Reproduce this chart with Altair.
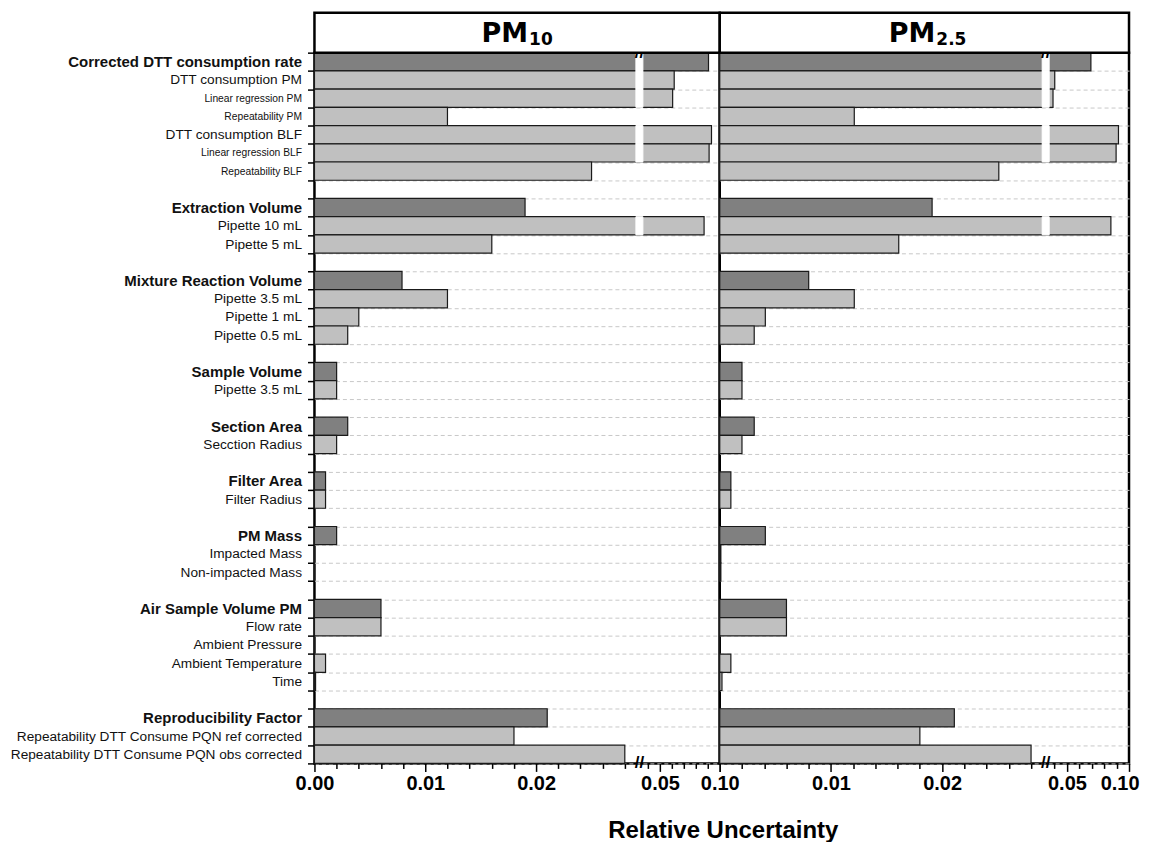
import json
import altair as alt
import pandas as pd

# ---------------- data ----------------
labels = [
    "Corrected DTT consumption rate", "DTT consumption PM", "Linear regression PM", "Repeatability PM",
    "DTT consumption BLF", "Linear regression BLF", "Repeatability BLF", "",
    "Extraction Volume", "Pipette 10 mL", "Pipette 5 mL", "",
    "Mixture Reaction Volume", "Pipette 3.5 mL", "Pipette 1 mL", "Pipette 0.5 mL", "",
    "Sample Volume", "Pipette 3.5 mL", "",
    "Section Area", "Secction Radius", "",
    "Filter Area", "Filter Radius", "",
    "PM Mass", "Impacted Mass", "Non-impacted Mass", "",
    "Air Sample Volume PM", "Flow rate", "Ambient Pressure", "Ambient Temperature", "Time", "",
    "Reproducibility Factor", "Repeatability DTT Consume PQN ref corrected",
    "Repeatability DTT Consume PQN obs corrected",
]

kinds = [
    "group", "item", "small", "small", "item", "small", "small", "blank",
    "group", "item", "item", "blank",
    "group", "item", "item", "item", "blank",
    "group", "item", "blank",
    "group", "item", "blank",
    "group", "item", "blank",
    "group", "item", "item", "blank",
    "group", "item", "item", "item", "item", "blank",
    "group", "item", "item",
]

pm10 = [
    0.0906, 0.0619, 0.0606, 0.0120, 0.0931, 0.0911, 0.0250, None,
    0.0190, 0.0869, 0.0160, None,
    0.0079, 0.0120, 0.0040, 0.0030, None,
    0.0020, 0.0020, None,
    0.0030, 0.0020, None,
    0.0010, 0.0010, None,
    0.0020, 0.0, 0.0, None,
    0.0060, 0.0060, 0.0, 0.0010, 0.0001, None,
    0.0210, 0.0180, 0.0280,
]

pm25 = [
    0.0693, 0.0402, 0.0388, 0.0121, 0.0915, 0.0896, 0.0251, None,
    0.0191, 0.0854, 0.0161, None,
    0.0080, 0.0121, 0.0041, 0.0031, None,
    0.0020, 0.0020, None,
    0.0031, 0.0020, None,
    0.0010, 0.0010, None,
    0.0041, 0.0001, 0.0001, None,
    0.0060, 0.0060, 0.0, 0.0010, 0.0002, None,
    0.0211, 0.0180, 0.0280,
]

BREAK_LO = 0.029
BREAK_HI = 0.0357
X_MAX = 0.10
major_ticks = [0.0, 0.01, 0.02, 0.05, 0.1]
minor_ticks = [0.002, 0.004, 0.006, 0.008, 0.012, 0.014, 0.016, 0.018,
               0.022, 0.024, 0.026, 0.028, 0.04, 0.06, 0.07, 0.08, 0.09]
break_marks = [0.0324]

# ---------------- layout ----------------
H = 712
HEADER = 40
FONT = "Liberation Sans, Arial, sans-serif"
HFONT = "DejaVu Sans, Verdana, sans-serif"

rows = list(range(len(labels)))
group_rows = [i for i, k in enumerate(kinds) if k == "group"]
small_rows = [i for i, k in enumerate(kinds) if k == "small"]


def make_df(values):
    recs = []
    for i, (v, k) in enumerate(zip(values, kinds)):
        if v is None:
            continue
        recs.append({"row": i, "value": v, "kind": k, "lo": BREAK_LO, "hi": BREAK_HI})
    return pd.DataFrame(recs)


def panel(values, sub, width, rng, first):
    df = make_df(values)
    xscale = alt.Scale(domain=[0, BREAK_LO, BREAK_HI, X_MAX], range=rng, nice=False, zero=False)
    shown = major_ticks if first else [t for t in major_ticks if t > 0]
    is_major = f"indexof({json.dumps(major_ticks)}, datum.value) >= 0"
    xa = dict(
        values=sorted(major_ticks + minor_ticks),
        labelExpr=f"indexof({json.dumps(shown)}, datum.value) >= 0 ? format(datum.value, '.2f') : ''",
        tickSize={"condition": {"test": is_major, "value": 8}, "value": 5},
        tickWidth=1.5, tickColor="black", domain=False, grid=False,
        labelFont=FONT, labelFontSize=20, labelFontWeight="bold", labelColor="black",
        labelPadding=2, labelOverlap=False,
    )
    if first:
        xaxis = alt.Axis(title="Relative Uncertainty", titleFont=FONT, titleFontSize=24,
                         titleFontWeight="bold", titleColor="black", titleX=409, titleY=74,
                         titleAlign="center", titleBaseline="alphabetic", labelFlush=False, **xa)
    else:
        xaxis = alt.Axis(title=None, labelFlush=True, labelFlushOffset=10, **xa)

    cy = dict(title=None, tickBand="extent", grid=True, gridDash=[4, 3],
              gridColor="#c8c8c8", gridWidth=1, domain=False)
    if first:
        yaxis = alt.Axis(
            labelExpr=f"{json.dumps(labels)}[datum.value]",
            ticks=True, tickSize=7, tickWidth=1.5, tickColor="black",
            labelPadding=6, labelLimit=500, labelFont=FONT, labelColor="#111111",
            labelFontWeight={"condition": {"test": f"indexof({json.dumps(group_rows)}, datum.value) >= 0",
                                           "value": "bold"}, "value": "normal"},
            labelFontSize={"condition": [
                {"test": f"indexof({json.dumps(group_rows)}, datum.value) >= 0", "value": 15},
                {"test": f"indexof({json.dumps(small_rows)}, datum.value) >= 0", "value": 10.3},
            ], "value": 13.7},
            **cy)
    else:
        yaxis = alt.Axis(labels=False, ticks=False, **cy)
    yscale = alt.Scale(domain=rows, paddingInner=0, paddingOuter=0)
    y = alt.Y("row:O", scale=yscale, axis=yaxis)

    bars = alt.Chart(df).mark_bar(stroke="#1a1a1a", strokeWidth=1.2).encode(
        x=alt.X("value:Q", scale=xscale, axis=xaxis),
        y=y,
        color=alt.Color("kind:N", scale=alt.Scale(domain=["group", "item", "small"],
                                                  range=["#808080", "#c0c0c0", "#c0c0c0"]),
                        legend=None),
    )
    gap = alt.Chart(df).transform_filter(f"datum.value > {BREAK_HI}").mark_bar(
        fill="white", stroke="white", strokeWidth=1
    ).encode(x=alt.X("lo:Q", scale=xscale, axis=xaxis), x2="hi:Q", y=y)

    bdf = pd.DataFrame({"pos": break_marks})
    brk_top = alt.Chart(bdf).mark_text(text="//", font=FONT, fontSize=17, fontWeight="bold",
                                       color="black", baseline="middle").encode(
        x=alt.X("pos:Q", scale=xscale, axis=xaxis), y=alt.value(0))
    brk_bot = alt.Chart(bdf).mark_text(text="//", font=FONT, fontSize=17, fontWeight="bold",
                                       color="black", baseline="middle").encode(
        x=alt.X("pos:Q", scale=xscale, axis=xaxis), y=alt.value(H))

    one = alt.Data(values=[{}])
    hdr = alt.Chart(one).mark_rect(fill="white", stroke="black", strokeWidth=2.5).encode(
        x=alt.value(0), x2=alt.value(width), y=alt.value(-HEADER), y2=alt.value(0))
    t_main = alt.Chart(one).mark_text(text="PM", font=HFONT, fontSize=27, fontWeight="bold",
                                      align="right", baseline="alphabetic", color="black").encode(
        x=alt.value(width / 2 + 11), y=alt.value(-11))
    t_sub = alt.Chart(one).mark_text(text=sub, font=HFONT, fontSize=17, fontWeight="bold",
                                     align="left", baseline="alphabetic", color="black", dx=1).encode(
        x=alt.value(width / 2 + 11), y=alt.value(-8))

    return alt.layer(bars, gap, brk_top, brk_bot, hdr, t_main, t_sub).properties(width=width, height=H)


p1 = panel(pm10, "10", 406, [0, 322, 329, 406], True)
p2 = panel(pm25, "2.5", 410, [0, 323, 330, 410], False)

chart = alt.hconcat(p1, p2, spacing=0, bounds="flush").properties(
    padding={"left": 0, "top": 1, "right": 0, "bottom": 0}
).configure_view(stroke="black", strokeWidth=2.5)

chart.save("out.html", embed_options={"renderer": "svg", "actions": False})
